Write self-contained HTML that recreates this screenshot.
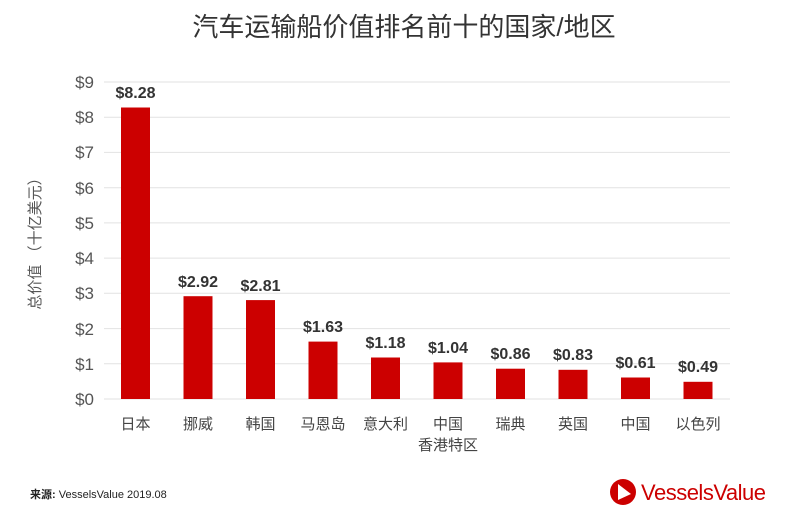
<!DOCTYPE html>
<html><head><meta charset="utf-8"><style>
html,body{margin:0;padding:0;background:#fff;}
svg{display:block;font-family:"Liberation Sans","Noto Sans CJK SC",sans-serif;}
</style></head><body>
<svg width="808" height="507" viewBox="0 0 808 507">
<text x="404" y="36" text-anchor="middle" font-size="26" fill="#333">汽车运输船价值排名前十的国家/地区</text>
<g stroke="#e2e2e2" stroke-width="1">
<line x1="104" x2="730" y1="82" y2="82"/><line x1="104" x2="730" y1="117.2" y2="117.2"/>
<line x1="104" x2="730" y1="152.4" y2="152.4"/><line x1="104" x2="730" y1="187.7" y2="187.7"/>
<line x1="104" x2="730" y1="222.9" y2="222.9"/><line x1="104" x2="730" y1="258.1" y2="258.1"/>
<line x1="104" x2="730" y1="293.3" y2="293.3"/><line x1="104" x2="730" y1="328.6" y2="328.6"/>
<line x1="104" x2="730" y1="363.8" y2="363.8"/><line x1="104" x2="730" y1="399" y2="399"/>
</g>
<g font-size="17" fill="#555" text-anchor="end">
<text x="94" y="88">$9</text><text x="94" y="123">$8</text><text x="94" y="158">$7</text>
<text x="94" y="194">$6</text><text x="94" y="229">$5</text><text x="94" y="264">$4</text>
<text x="94" y="299">$3</text><text x="94" y="335">$2</text><text x="94" y="370">$1</text><text x="94" y="405">$0</text>
</g>
<text transform="translate(40,240) rotate(-90)" text-anchor="middle" font-size="15" fill="#555">总价值 （十亿美元）</text>
<g fill="#cc0000">
<rect x="121" y="107.5" width="29" height="291.5"/>
<rect x="183.5" y="296.2" width="29" height="102.8"/>
<rect x="246" y="300.1" width="29" height="98.9"/>
<rect x="308.5" y="341.6" width="29" height="57.4"/>
<rect x="371" y="357.5" width="29" height="41.5"/>
<rect x="433.5" y="362.4" width="29" height="36.6"/>
<rect x="496" y="368.7" width="29" height="30.3"/>
<rect x="558.5" y="369.8" width="29" height="29.2"/>
<rect x="621" y="377.5" width="29" height="21.5"/>
<rect x="683.5" y="381.8" width="29" height="17.2"/>
</g>
<g font-size="16" font-weight="bold" fill="#333" text-anchor="middle">
<text x="135.5" y="98">$8.28</text><text x="198" y="287">$2.92</text>
<text x="260.5" y="291">$2.81</text><text x="323" y="332">$1.63</text>
<text x="385.5" y="348">$1.18</text><text x="448" y="353">$1.04</text>
<text x="510.5" y="359">$0.86</text><text x="573" y="360">$0.83</text>
<text x="635.5" y="368">$0.61</text><text x="698" y="372">$0.49</text>
</g>
<g font-size="15" fill="#444" text-anchor="middle">
<text x="135.5" y="429">日本</text><text x="198" y="429">挪威</text>
<text x="260.5" y="429">韩国</text><text x="323" y="429">马恩岛</text>
<text x="385.5" y="429">意大利</text><text x="448" y="429">中国</text>
<text x="448" y="450">香港特区</text>
<text x="510.5" y="429">瑞典</text><text x="573" y="429">英国</text>
<text x="635.5" y="429">中国</text><text x="698" y="429">以色列</text>
</g>
<text x="30" y="498" font-size="11" fill="#222"><tspan font-weight="bold">来源:</tspan> VesselsValue 2019.08</text>
<circle cx="623" cy="492" r="13" fill="#cc0000"/>
<polygon points="618,484 618,500 631,494" fill="#fff"/>
<text x="641" y="500" font-size="22" fill="#cc0000" letter-spacing="-0.5">VesselsValue</text>
</svg>
</body></html>
